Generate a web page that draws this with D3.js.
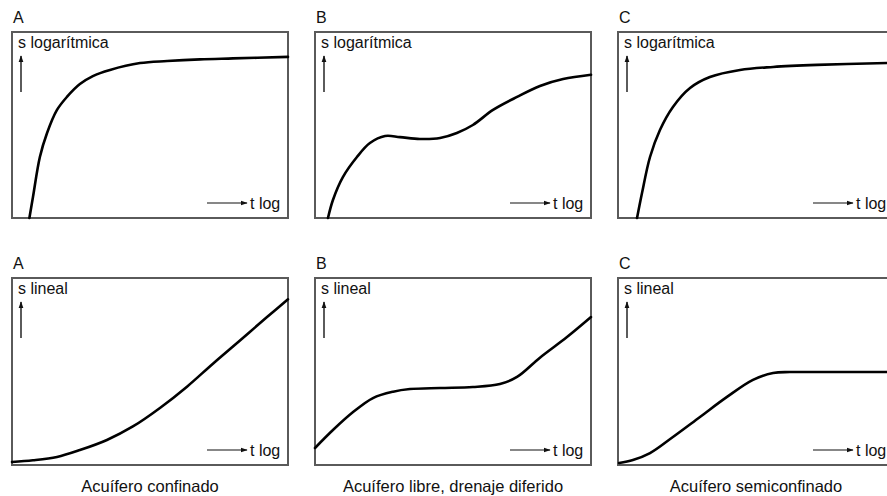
<!DOCTYPE html>
<html>
<head>
<meta charset="utf-8">
<script src="https://cdn.jsdelivr.net/npm/d3@7"></script>
<style>
  html, body { margin: 0; padding: 0; background: #fff; }
  svg { display: block; }
  text { font-family: "Liberation Sans", Arial, sans-serif; fill: #111; }
</style>
</head>
<body>
<svg id="chart" width="887" height="496"></svg>
<script>
// ---- Data (t in % of axis width, s in % of axis height) ----
const panelLetters = ["A", "B", "C"];
const rowYLabels = ["s logarítmica", "s lineal"];
const xLabel = "t log";
const captions = ["Acuífero confinado", "Acuífero libre, drenaje diferido", "Acuífero semiconfinado"];

const logA_t = [6.3, 7.6, 10.1, 12.7, 16.3, 19.9, 24.6, 29.3, 35.5, 46.4, 56.2, 68.1, 80.1, 100];
const logA_s = [0, 11.3, 32.8, 45.7, 58.1, 65.1, 72.0, 76.3, 79.6, 83.3, 84.4, 85.3, 85.8, 86.6];

const logB_t = [4.7, 6.5, 10.1, 15.2, 19.9, 25.4, 30.8, 38.0, 45.3, 51.4, 57.2, 64.5, 73.2, 81.5, 89.9, 100];
const logB_s = [0, 9.7, 22.0, 32.8, 40.3, 44.1, 43.5, 42.5, 43.0, 45.7, 50.0, 58.1, 65.1, 71.0, 74.7, 77.0];

const logC_t = [6.9, 8.7, 11.6, 15.2, 19.9, 26.1, 33.3, 44.2, 56.2, 72.1, 97.5, 100];
const logC_s = [0, 13.4, 32.8, 47.3, 59.7, 69.9, 75.8, 79.6, 81.2, 82.3, 83.3, 83.4];

const linA_t = [0, 7.6, 16.3, 24.6, 34.4, 43.8, 53.6, 63.4, 72.8, 82.6, 92.4, 100];
const linA_s = [1.6, 2.5, 4.3, 8.0, 13.4, 20.6, 30.5, 41.9, 54.2, 66.6, 79.1, 88.6];

const linB_t = [0, 6.5, 13.8, 21.0, 28.3, 34.4, 45.3, 57.2, 67.0, 73.2, 81.5, 91.3, 100];
const linB_s = [9.1, 18.7, 28.3, 35.8, 39.2, 40.6, 41.2, 41.7, 43.3, 47.1, 57.4, 68.4, 79.1];

const linC_t = [0.4, 5.4, 11.6, 19.9, 29.7, 39.5, 48.9, 56.2, 62.3, 77.9, 100];
const linC_s = [1.1, 2.7, 6.4, 15.0, 25.7, 36.4, 45.5, 49.2, 49.7, 49.7, 49.7];

const series = [
  [[logA_t, logA_s], [logB_t, logB_s], [logC_t, logC_s]],
  [[linA_t, linA_s], [linB_t, linB_s], [linC_t, linC_s]]
];

// ---- Layout ----
const svg = d3.select("#chart");
const colX = [12, 315, 618];
const boxW = 276;
const rows = [{ top: 32, bottom: 218 }, { top: 278, bottom: 465 }];
const fs = 16;

svg.append("defs").append("marker")
  .attr("id", "ah").attr("viewBox", "0 0 10 10")
  .attr("refX", 9).attr("refY", 5)
  .attr("markerWidth", 7).attr("markerHeight", 7)
  .attr("markerUnits", "userSpaceOnUse")
  .attr("orient", "auto")
  .append("path").attr("d", "M0,1.5 L10,5 L0,8.5 Z").attr("fill", "#111");

rows.forEach((row, r) => {
  colX.forEach((x0, c) => {
    const x = d3.scaleLinear().domain([0, 100]).range([x0, x0 + boxW]);
    const y = d3.scaleLinear().domain([0, 100]).range([row.bottom, row.top]);
    const g = svg.append("g");

    // panel letter
    g.append("text").attr("x", x0 + 1).attr("y", row.top - 9)
      .attr("font-size", fs).text(panelLetters[c]);

    // frame
    g.append("rect").attr("x", x0).attr("y", row.top)
      .attr("width", boxW).attr("height", row.bottom - row.top)
      .attr("fill", "none").attr("stroke", "#5a5a5a").attr("stroke-width", 2);

    // y label
    g.append("text").attr("x", x0 + 6).attr("y", row.top + 16)
      .attr("font-size", fs).text(rowYLabels[r]);

    // vertical arrow
    g.append("line").attr("x1", x0 + 9).attr("x2", x0 + 9)
      .attr("y1", row.top + 60).attr("y2", row.top + 24)
      .attr("stroke", "#333").attr("stroke-width", 1.6)
      .attr("marker-end", "url(#ah)");

    // horizontal arrow + t log
    const ay = row.bottom - 15;
    g.append("line").attr("x1", x0 + 195).attr("x2", x0 + 235)
      .attr("y1", ay).attr("y2", ay)
      .attr("stroke", "#111").attr("stroke-width", 1.2)
      .attr("marker-end", "url(#ah)");
    g.append("text").attr("x", x0 + 238).attr("y", ay + 5.5)
      .attr("font-size", fs).text(xLabel);

    // curve
    const [ts, ss] = series[r][c];
    const pts = ts.map((t, i) => [t, ss[i]]);
    const line = d3.line().x(d => x(d[0])).y(d => y(d[1])).curve(d3.curveCatmullRom.alpha(0.5));
    g.append("path").datum(pts).attr("d", line)
      .attr("fill", "none").attr("stroke", "#000").attr("stroke-width", 2.6)
      .attr("stroke-linecap", "round").attr("stroke-linejoin", "round");

    // caption
    if (r === 1) {
      g.append("text").attr("x", x0 + boxW / 2).attr("y", 492)
        .attr("text-anchor", "middle").attr("font-size", 16.5).text(captions[c]);
    }
  });
});
</script>
</body>
</html>
